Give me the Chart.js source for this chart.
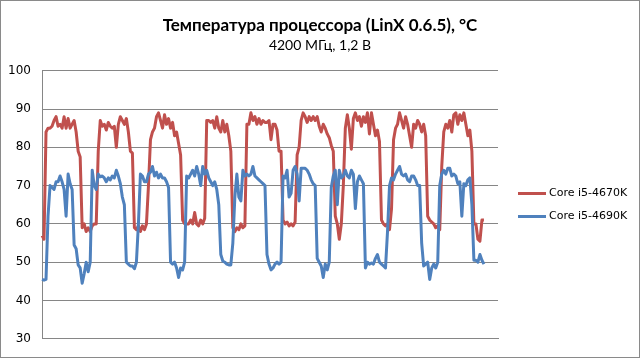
<!DOCTYPE html>
<html>
<head>
<meta charset="utf-8">
<script src="https://cdn.jsdelivr.net/npm/chart.js@4.4.1/dist/chart.umd.min.js"></script>
<style>
  html, body { margin: 0; padding: 0; background: #fff; }
  #wrap { width: 640px; height: 358px; box-sizing: border-box; border: 1px solid #8a8a8a; position: relative; }
  canvas { display: block; }
</style>
</head>
<body>
<div id="wrap"><canvas id="c" width="638" height="356"></canvas></div>
<script>
// ---- Data ----
const chartTitle = "Температура процессора (LinX 0.6.5), °C";
const chartSubtitle = "4200 МГц, 1,2 В";
const seriesNames = ["Core i5-4670K", "Core i5-4690K"];
const yTicks = [30, 40, 50, 60, 70, 80, 90, 100];

const red4670K = [
  57,56,84,85,85,85.5,87,88,85.5,86,
  85,88,85,87.5,85,86,87,84,79,77.5,
  59,60,58,59,58,59.5,60,60,79,87,
  85.5,86,84.5,86.5,85.5,85,85.5,80,86,88,
  87,86,87.5,84,79,78.5,59,58.5,59.5,58,
  59.5,58.5,60,70,82,84,85,88,89,87,
  85,88.5,86,87.5,85,86.5,83,84,81,78,
  61,60,60,60,61,60,63,60,59.5,61,
  60,61.5,87,87,86.5,87,85,88,85,84,
  87,84,86,83,79,59,58,59,58.5,60,
  59,59.5,86,86,89,87,88,86,87.5,86,
  87,86.5,86.5,87,82,86,86,84.5,79,79,
  61,60,60.5,59.5,60,59.5,60.5,78,80,87,
  89,88,86.5,88,87,88,87,88,85.5,84,
  86,85,83.5,82.5,80.5,79,62,60,56,60,
  70,85,88.5,85,79.5,87.5,89,87,88,85.5,
  88,86.5,89,83.5,89,86,83,84.5,81.5,61,
  60,59.5,60,58.5,64,82,85,86,89,87,
  85,88,86,83,80,86,85,87,86,84,
  86,83,62,61,60.5,60,59,59.5,58.5,75,
  84,86,85,87,84,88.5,89,86,88.5,87,
  89,86,83,84.5,79,60,60,56,55.5,61,
  61
];

const blue4690K = [
  45.5,45.3,45.5,62,70,69.5,69,71,71,72.5,
  71,69,62,73,70.5,69,54.5,53.5,49.3,48.5,
  44.5,47,50,47.5,50,74,70,69,73,72.3,
  72.5,72,71,72,71.5,72.5,72,74,72.5,70.5,
  67,65,50,49.5,49,49,48.3,50,60,73,
  72.5,71,71,73,73.5,75,72.5,73.5,72,73,
  72,72,71,69.5,50,49.5,50,48.5,46,48.5,
  48,50,72.5,72,73,74,72.5,75,73,70,
  75,73,74,72,71,70,71,69,65,52,
  50.3,50,49.5,49.3,49.3,55,67,73,67,66,
  74,72.5,73,72.5,73,75,72.5,72,71.5,71,
  70.5,70,52,49.5,48,48.5,49.5,50,49.5,50,
  72.5,72,74,67,68,74,75,73,66,74.5,
  74.5,74.5,74,73,71.5,70.5,70,51,50,49,
  46,49.5,48,50,69.5,72.5,74,65,74,72,
  72.5,74,72.5,72,74,73,64,71,72.5,71.5,
  70.5,48.5,50,49.5,49.8,49.5,51,52,50,49.5,
  49,48.5,58,70,72,71.5,73,74,75,73,
  72.5,73,71.5,71,72.5,72.5,71.5,70,70,55,
  49,49.5,50,45.5,48.5,49.5,48.5,50,70,73,
  74,73,74.5,74.5,72.5,73,72.5,70.5,71,62,
  70.5,70,71.5,72,65,50.5,50.5,50,52,50.5,
  49.5
];

// sample index categories (axis has room for a few empty samples at the end)
const categoryCount = 228;
const categories = Array.from({length: categoryCount}, (_, i) => String(i + 1));

const colors = ["#C0504D", "#4F81BD"];

// ---- custom legend drawn from the datasets ----
const sideLegend = {
  id: 'sideLegend',
  afterDraw(chart) {
    const ctx = chart.ctx;
    const a = chart.chartArea;
    const x0 = a.right + 20;
    const mid = (a.top + a.bottom) / 2;
    const gap = 23;
    const ds = chart.data.datasets;
    ctx.save();
    ctx.font = '11px "DejaVu Sans"';
    ctx.textBaseline = 'middle';
    ctx.textAlign = 'left';
    ds.forEach((d, i) => {
      const y = Math.round(mid + (i - (ds.length - 1) / 2) * gap) + 0.5;
      ctx.strokeStyle = d.borderColor;
      ctx.lineWidth = 3;
      ctx.lineCap = 'butt';
      ctx.beginPath();
      ctx.moveTo(x0, y);
      ctx.lineTo(x0 + 28, y);
      ctx.stroke();
      ctx.fillStyle = '#000';
      ctx.fillText(d.label, x0 + 31, y);
    });
    ctx.restore();
  }
};

new Chart(document.getElementById('c'), {
  type: 'line',
  data: {
    labels: categories,
    datasets: [
      { label: seriesNames[0], data: red4670K, borderColor: colors[0], backgroundColor: colors[0],
        borderWidth: 3, pointRadius: 0, tension: 0, borderJoinStyle: 'round', order: 1 },
      { label: seriesNames[1], data: blue4690K, borderColor: colors[1], backgroundColor: colors[1],
        borderWidth: 3, pointRadius: 0, tension: 0, borderJoinStyle: 'round', order: 0 }
    ]
  },
  options: {
    responsive: false,
    animation: false,
    layout: { padding: 0 },
    plugins: {
      legend: { display: false },
      tooltip: { enabled: false },
      title: {
        display: true, text: chartTitle, color: '#000',
        font: { family: 'Lato', size: 17, weight: 'bold' },
        padding: { top: 14, bottom: 2 }
      },
      subtitle: {
        display: true, text: chartSubtitle, color: '#000',
        font: { family: 'Lato', size: 14 },
        padding: { top: 0, bottom: 16.5 }
      }
    },
    scales: {
      x: {
        type: 'category',
        offset: false,
        afterFit(s) { s.height = 13; },
        ticks: { display: false },
        grid: { display: false, drawTicks: false },
        border: { display: true, color: '#868686' }
      },
      y: {
        min: 30, max: 100,
        afterBuildTicks(s) { s.ticks = yTicks.map(v => ({ value: v })); },
        afterFit(s) { s.width = 41; },
        ticks: { color: '#000', padding: 11, font: { family: 'DejaVu Sans', size: 12 } },
        grid: { color: '#868686', drawTicks: false, lineWidth: 1 },
        border: { display: true, color: '#868686' }
      },
      legendSpace: {
        position: 'right',
        min: 30, max: 100,
        afterFit(s) { s.width = 141; },
        ticks: { display: false },
        grid: { display: false, drawTicks: false },
        border: { display: false }
      }
    }
  },
  plugins: [sideLegend]
});
</script>
</body>
</html>
